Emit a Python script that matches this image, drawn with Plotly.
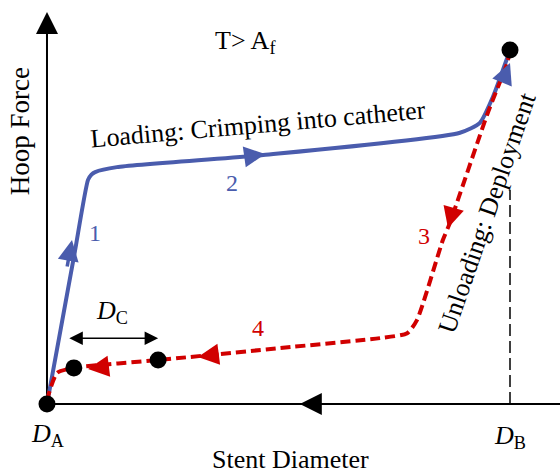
import plotly.graph_objects as go

# Schematic data (x: stent diameter, D_A=0, D_B=10; y: hoop force)
load_x = [0.0, 0.30, 0.60, 0.886, 0.96, 1.04, 1.51, 4.67, 8.92, 9.35, 9.63, 10.0]
load_y = [0.0, 2.14, 4.29, 6.33, 6.48, 6.55, 6.69, 7.03, 7.66, 7.94, 8.67, 10.0]

unload_x = [10.0, 9.94, 9.52, 8.70, 8.55, 7.99, 7.78, 7.19, 5.03, 2.40, 0.58, 0.22, 0.02, 0.0]
unload_y = [10.0, 9.63, 8.22, 5.11, 4.63, 2.37, 2.0, 1.86, 1.58, 1.24, 1.02, 0.88, 0.20, 0.0]

dots_x = [0.0, 10.0, 2.40, 0.58]
dots_y = [0.0, 10.0, 1.24, 1.02]

# direction arrows: (tail_x, tail_y, tip_x, tip_y)
blue_arrows = [(0.43, 3.84, 0.54, 4.63), (4.28, 6.98, 4.71, 7.06), (9.85, 9.15, 10.0, 9.63)]
red_arrows = [(8.77, 5.48, 8.66, 4.97), (3.74, 1.41, 3.26, 1.33), (1.36, 1.07, 0.886, 0.99)]

BLUE = "#4a5cad"
RED = "#d10000"
SERIF = "Liberation Serif"

fig = go.Figure()

# axes
fig.add_trace(go.Scatter(x=[0, 0], y=[0, 10.6], mode="lines",
                         line=dict(color="black", width=2), hoverinfo="skip"))
fig.add_trace(go.Scatter(x=[0, 11.2], y=[0, 0], mode="lines",
                         line=dict(color="black", width=2), hoverinfo="skip"))
# D_B dashed marker line
fig.add_trace(go.Scatter(x=[10, 10], y=[0, 6.05], mode="lines",
                         line=dict(color="black", width=1.5, dash="12px,5px"), hoverinfo="skip"))

fig.add_trace(go.Scatter(x=load_x, y=load_y, mode="lines",
                         line=dict(color=BLUE, width=4, shape="spline", smoothing=0.6),
                         hoverinfo="skip"))
fig.add_trace(go.Scatter(x=unload_x, y=unload_y, mode="lines",
                         line=dict(color=RED, width=4, shape="spline", smoothing=0.6, dash="10px,5px"),
                         hoverinfo="skip"))
fig.add_trace(go.Scatter(x=dots_x, y=dots_y, mode="markers",
                         marker=dict(color="black", size=17), hoverinfo="skip"))

ann = []
for (tx, ty, hx, hy) in blue_arrows:
    ann.append(dict(x=hx, y=hy, ax=tx, ay=ty, xref="x", yref="y", axref="x", ayref="y",
                    showarrow=True, arrowhead=2, arrowsize=1.2, arrowwidth=3.5,
                    arrowcolor=BLUE, text=""))
for (tx, ty, hx, hy) in red_arrows:
    ann.append(dict(x=hx, y=hy, ax=tx, ay=ty, xref="x", yref="y", axref="x", ayref="y",
                    showarrow=True, arrowhead=2, arrowsize=1.2, arrowwidth=3.5,
                    arrowcolor=RED, text=""))
# axis arrows
ann.append(dict(x=0, y=11.07, ax=0, ay=10.3, xref="x", yref="y", axref="x", ayref="y",
                showarrow=True, arrowhead=2, arrowsize=2.2, arrowwidth=2, arrowcolor="black", text=""))
ann.append(dict(x=5.46, y=0, ax=6.11, ay=0, xref="x", yref="y", axref="x", ayref="y",
                showarrow=True, arrowhead=2, arrowsize=2.2, arrowwidth=2, arrowcolor="black", text=""))
# D_C double arrow
ann.append(dict(x=2.40, y=1.86, ax=0.45, ay=1.86, xref="x", yref="y", axref="x", ayref="y",
                showarrow=True, arrowhead=2, startarrowhead=2, arrowside="end+start",
                arrowsize=1.8, startarrowsize=1.8, arrowwidth=1.5, arrowcolor="black", text=""))

def txt(x, y, s, size=26, color="black", angle=0):
    ann.append(dict(x=x, y=y, xref="x", yref="y", text=s, showarrow=False, textangle=angle,
                    font=dict(family=SERIF, size=size, color=color)))

txt(4.28, 10.23, "T&gt; A<sub>f</sub>", 26)
txt(4.56, 7.88, "Loading: Crimping into catheter", 26, angle=-5)
txt(9.50, 5.42, "Unloading: Deployment", 26, angle=-71)
txt(-0.58, 7.71, "Hoop Force", 27, angle=-90)
txt(5.25, -1.58, "Stent Diameter", 26)
txt(0.02, -0.88, "<i>D</i><sub>A</sub>", 26)
txt(10.0, -0.93, "<i>D</i><sub>B</sub>", 26)
txt(1.40, 2.60, "<i>D</i><sub>C</sub>", 26)
txt(1.04, 4.83, "1", 24, BLUE)
txt(4.0, 6.24, "2", 24, BLUE)
txt(8.14, 4.75, "3", 24, RED)
txt(4.56, 2.15, "4", 24, RED)

fig.update_layout(
    width=560, height=473, margin=dict(l=0, r=0, t=0, b=0),
    paper_bgcolor="white", plot_bgcolor="white", showlegend=False,
    xaxis=dict(range=[-1.015, 11.08], visible=False, fixedrange=True),
    yaxis=dict(range=[-1.949, 11.41], visible=False, fixedrange=True),
    annotations=ann,
)
fig.write_html("out.html", config={"displayModeBar": False},
               post_script="document.body.style.margin='0';")
